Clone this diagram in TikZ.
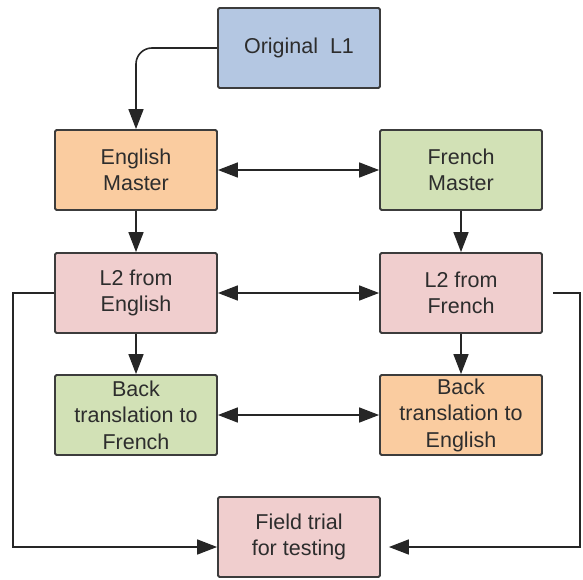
\documentclass[tikz,border=0pt]{standalone}
\usepackage{fontspec}
\setmainfont{Liberation Sans}
\usetikzlibrary{arrows.meta}
\definecolor{boxblue}{RGB}{180,199,226}
\definecolor{boxorange}{RGB}{250,204,160}
\definecolor{boxgreen}{RGB}{210,225,182}
\definecolor{boxpink}{RGB}{240,206,206}
\definecolor{edge}{RGB}{60,60,60}
\definecolor{ink}{RGB}{45,45,45}
\begin{document}
\begin{tikzpicture}[x=1pt,y=-1pt,
  stagebox/.style={draw=edge,line width=1.8pt,rounded corners=1.5pt,
    minimum width=162pt,minimum height=80pt,inner sep=2pt,align=center,
    text=ink,font=\fontsize{21.5}{26.5}\selectfont},
  tip/.tip={Triangle[length=20pt,width=15pt]},
  flow/.style={draw=black!85,line width=1.6pt,-tip},
  twoway/.style={draw=black!85,line width=1.6pt,tip-tip}]
\useasboundingbox (0,0) rectangle (583,580);

\node[stagebox,fill=boxblue]   (orig) at (299,48)  {Original\ \ L1};
\node[stagebox,fill=boxorange] (enm)  at (136,170) {English\\Master};
\node[stagebox,fill=boxgreen]  (frm)  at (461,170) {French\\Master};
\node[stagebox,fill=boxpink]   (l2e)  at (136,293) {L2 from\\English};
\node[stagebox,fill=boxpink]   (l2f)  at (461,293) {L2 from\\French};
\node[stagebox,fill=boxgreen]  (bte)  at (136,415) {Back\\translation to\\French};
\node[stagebox,fill=boxorange] (btf)  at (461,415) {Back\\translation to\\English};
\node[stagebox,fill=boxpink]   (fld)  at (299,537) {Field trial\\for testing};

% source text into the English master
\draw[flow,rounded corners=16pt] (orig.west) -| (enm.north);
% vertical steps in each column
\draw[flow] (enm.south) -- (l2e.north);
\draw[flow] (l2e.south) -- (bte.north);
\draw[flow] (frm.south) -- (l2f.north);
\draw[flow] (l2f.south) -- (btf.north);
% cross comparisons between the two columns
\draw[twoway] (enm.east) -- (frm.west);
\draw[twoway] (l2e.east) -- (l2f.west);
\draw[twoway] (bte.east) -- (btf.west);
% both L2 versions go to the field trial
\coordinate (rstart) at ([xshift=10pt]l2f.east);
\coordinate (lin) at ([yshift=-10pt]fld.west);
\coordinate (rin) at ([xshift=8pt,yshift=-10pt]fld.east);
\draw[flow] (l2e.west) -- (13,293) |- (lin);
\draw[flow] (rstart) -- (580,293) |- (rin);
\end{tikzpicture}
\end{document}
